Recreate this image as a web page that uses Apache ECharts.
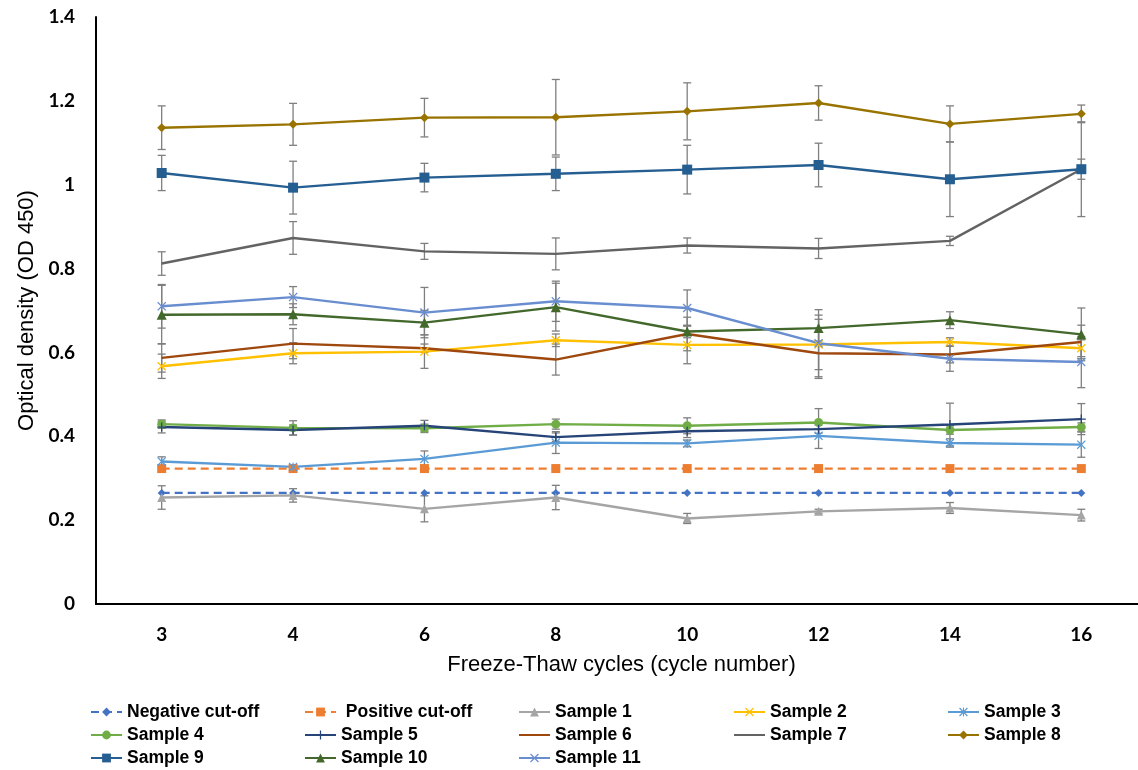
<!DOCTYPE html>
<html>
<head>
<meta charset="utf-8">
<script src="https://cdn.jsdelivr.net/npm/echarts@6/dist/echarts.min.js"></script>
<style>
html,body{margin:0;padding:0;background:#fff;overflow:hidden;width:1138px;height:770px;}
#chart{width:1147px;height:770px;}
</style>
</head>
<body>
<div id="chart"></div>
<script>
// ---- data ----
const categories = ['3', '4', '6', '8', '10', '12', '14', '16'];
const yTicks = [0, 0.2, 0.4, 0.6, 0.8, 1, 1.2, 1.4];

const negCutoff = [0.265, 0.265, 0.265, 0.265, 0.265, 0.265, 0.265, 0.265];
const posCutoff = [0.323, 0.323, 0.323, 0.323, 0.323, 0.323, 0.323, 0.323];

const sample1 = [0.254, 0.259, 0.227, 0.254, 0.204, 0.221, 0.229, 0.212];
const sample1Err = [0.028, 0.016, 0.031, 0.029, 0.012, 0.005, 0.013, 0.014];
const sample2 = [0.567, 0.598, 0.602, 0.629, 0.618, 0.619, 0.625, 0.610];
const sample2Err = [0.029, 0.025, 0.040, 0.015, 0.045, 0.060, 0.010, 0.020];
const sample3 = [0.340, 0.327, 0.346, 0.385, 0.383, 0.401, 0.384, 0.380];
const sample3Err = [0.011, 0.005, 0.019, 0.026, 0.008, 0.030, 0.010, 0.030];
const sample4 = [0.429, 0.420, 0.419, 0.429, 0.425, 0.433, 0.415, 0.422];
const sample4Err = [0.010, 0.017, 0.010, 0.012, 0.019, 0.033, 0.010, 0.010];
const sample5 = [0.422, 0.415, 0.425, 0.398, 0.412, 0.417, 0.428, 0.441];
const sample5Err = [0.014, 0.012, 0.013, 0.010, 0.015, 0.010, 0.051, 0.037];
const sample6 = [0.587, 0.621, 0.610, 0.583, 0.644, 0.598, 0.595, 0.625];
const sample6Err = [0.034, 0.036, 0.010, 0.037, 0.040, 0.060, 0.020, 0.040];
const sample7 = [0.812, 0.873, 0.841, 0.835, 0.855, 0.848, 0.866, 1.037];
const sample7Err = [0.028, 0.039, 0.019, 0.038, 0.018, 0.024, 0.011, 0.113];
const sample8 = [1.136, 1.144, 1.160, 1.161, 1.175, 1.195, 1.145, 1.169];
const sample8Err = [0.052, 0.050, 0.046, 0.090, 0.068, 0.041, 0.043, 0.021];
const sample9 = [1.028, 0.993, 1.017, 1.026, 1.036, 1.047, 1.013, 1.037];
const sample9Err = [0.042, 0.063, 0.034, 0.040, 0.058, 0.052, 0.089, 0.024];
const sample10 = [0.690, 0.691, 0.671, 0.708, 0.650, 0.658, 0.677, 0.643];
const sample10Err = [0.070, 0.025, 0.029, 0.057, 0.015, 0.031, 0.020, 0.063];
const sample11 = [0.710, 0.732, 0.695, 0.722, 0.706, 0.622, 0.585, 0.577];
const sample11Err = [0.052, 0.025, 0.060, 0.048, 0.043, 0.080, 0.030, 0.061];

// ---- symbols ----
const xSym = 'path://M1,0L5,4L9,0L10,1L6,5L10,9L9,10L5,6L1,10L0,9L4,5L0,1Z';
const starSym = 'path://M1,0L5,4L9,0L10,1L6,5L10,9L9,10L5,6L1,10L0,9L4,5L0,1Z M4.4,0L5.6,0L5.6,10L4.4,10Z';
const plusSym = 'path://M4.3,0L5.7,0L5.7,4.3L10,4.3L10,5.7L5.7,5.7L5.7,10L4.3,10L4.3,5.7L0,5.7L0,4.3L4.3,4.3Z';

const defs = [
  {name: 'Negative cut-off', data: negCutoff, color: '#4472C4', symbol: 'diamond', size: 8, dashed: true},
  {name: 'Positive cut-off', data: posCutoff, color: '#ED7D31', symbol: 'rect', size: 9, dashed: true},
  {name: 'Sample 1', data: sample1, err: sample1Err, color: '#A5A5A5', symbol: 'triangle', size: 9},
  {name: 'Sample 2', data: sample2, err: sample2Err, color: '#FFC000', symbol: xSym, size: 9},
  {name: 'Sample 3', data: sample3, err: sample3Err, color: '#5B9BD5', symbol: starSym, size: 9},
  {name: 'Sample 4', data: sample4, err: sample4Err, color: '#70AD47', symbol: 'circle', size: 9},
  {name: 'Sample 5', data: sample5, err: sample5Err, color: '#264478', symbol: plusSym, size: 9},
  {name: 'Sample 6', data: sample6, err: sample6Err, color: '#9E480E', symbol: 'none', size: 0},
  {name: 'Sample 7', data: sample7, err: sample7Err, color: '#636363', symbol: 'none', size: 0},
  {name: 'Sample 8', data: sample8, err: sample8Err, color: '#997300', symbol: 'diamond', size: 9},
  {name: 'Sample 9', data: sample9, err: sample9Err, color: '#255E91', symbol: 'rect', size: 10},
  {name: 'Sample 10', data: sample10, err: sample10Err, color: '#43682B', symbol: 'triangle', size: 10},
  {name: 'Sample 11', data: sample11, err: sample11Err, color: '#698ED0', symbol: xSym, size: 9}
];

const series = [];
defs.forEach(d => {
  if (d.err) {
    series.push({
      type: 'custom',
      silent: true,
      z: 1,
      encode: {x: 0, y: 1},
      data: d.data.map((v, i) => [i, v, d.err[i]]),
      renderItem: function (params, api) {
        const i = api.value(0), v = api.value(1), e = api.value(2);
        const top = api.coord([i, v + e]);
        const bot = api.coord([i, v - e]);
        const hw = 4;
        const st = {stroke: '#7f7f7f', lineWidth: 1.3};
        return {
          type: 'group',
          children: [
            {type: 'line', shape: {x1: top[0], y1: top[1], x2: bot[0], y2: bot[1]}, style: st},
            {type: 'line', shape: {x1: top[0] - hw, y1: top[1], x2: top[0] + hw, y2: top[1]}, style: st},
            {type: 'line', shape: {x1: bot[0] - hw, y1: bot[1], x2: bot[0] + hw, y2: bot[1]}, style: st}
          ]
        };
      }
    });
  }
});
defs.forEach(d => {
  series.push({
    name: d.name,
    type: 'line',
    z: 3,
    data: d.data,
    symbol: d.symbol,
    symbolSize: d.size,
    showSymbol: d.symbol !== 'none',
    color: d.color,
    itemStyle: {color: d.color},
    lineStyle: {color: d.color, width: d.dashed ? 2.2 : 2.4, type: d.dashed ? [8, 5] : 'solid'},
    emphasis: {disabled: true}
  });
});

// legend layout: 5 columns x 3 rows
const colX = [90, 304, 518, 733, 947];
const rowY = [712, 735, 758];
const legends = defs.map((d, k) => {
  const row = Math.floor(k / 5), col = k % 5;
  const item = {name: d.name};
  if (d.symbol === 'none') item.itemStyle = {opacity: 0};
  return {
    data: [item],
    left: colX[col],
    top: rowY[row] - 9,
    padding: 0,
    itemWidth: 31,
    itemHeight: 11,
    selectedMode: false,
    formatter: d.name === 'Positive cut-off' ? ' {name}' : '{name}',
    textStyle: {fontFamily: 'Liberation Sans, Arial, sans-serif', fontWeight: 'bold', fontSize: 17.5, color: '#000'}
  };
});

const chart = echarts.init(document.getElementById('chart'), null, {renderer: 'canvas'});
chart.setOption({
  animation: false,
  backgroundColor: '#fff',
  grid: {left: 96, right: 0, top: 17, bottom: 166, containLabel: false},
  legend: legends,
  xAxis: {
    type: 'category',
    data: categories,
    boundaryGap: true,
    name: 'Freeze-Thaw cycles (cycle number)',
    nameLocation: 'middle',
    nameGap: 50,
    nameTextStyle: {fontFamily: 'Liberation Sans, Arial, sans-serif', fontSize: 22, color: '#000'},
    axisLine: {show: true, lineStyle: {color: '#000', width: 2}},
    axisTick: {show: false},
    axisLabel: {margin: 21, fontFamily: 'Lato, sans-serif', fontWeight: 'bold', fontSize: 19, color: '#000'},
    splitLine: {show: false}
  },
  yAxis: {
    type: 'value',
    min: yTicks[0],
    max: yTicks[yTicks.length - 1],
    interval: 0.2,
    name: 'Optical density (OD 450)',
    nameLocation: 'middle',
    nameGap: 57,
    nameRotate: 90,
    nameTextStyle: {fontFamily: 'Liberation Sans, Arial, sans-serif', fontSize: 22, color: '#000'},
    axisLine: {show: true, lineStyle: {color: '#000', width: 2}},
    axisTick: {show: false},
    axisLabel: {margin: 21, fontFamily: 'Lato, sans-serif', fontWeight: 'bold', fontSize: 19, color: '#000',
      formatter: v => String(Math.round(v * 10) / 10)},
    splitLine: {show: false}
  },
  series: series
});
</script>
</body>
</html>
